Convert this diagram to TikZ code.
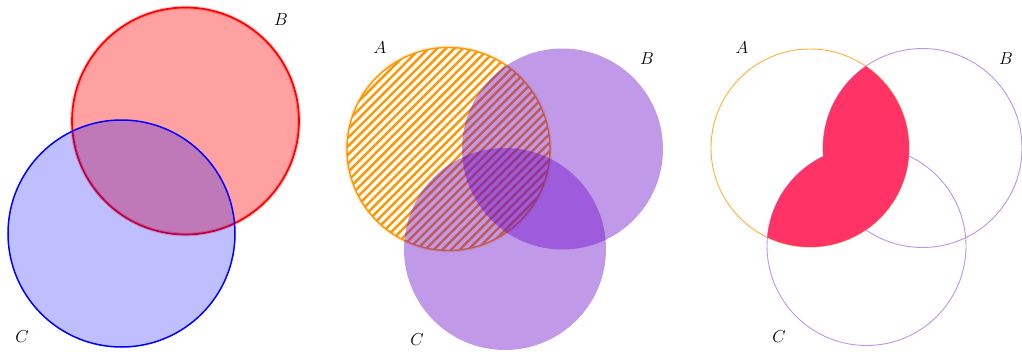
\documentclass[tikz,border=0pt]{standalone}
\usetikzlibrary{calc}
\definecolor{vio}{RGB}{100,0,200}
\definecolor{orng}{RGB}{255,150,0}
\definecolor{hot}{RGB}{255,51,102}
\definecolor{lvio}{RGB}{185,150,235}
\definecolor{lorng}{RGB}{255,175,60}
\tikzset{
  lab/.style={font=\fontsize{18}{20}\selectfont, inner sep=0pt},
  halo/.style={line width=3.8pt, draw opacity=0.22},
  thinring/.style={line width=0.9pt}
}
\begin{document}
\begin{tikzpicture}[x=1pt,y=-1pt]
\useasboundingbox (0,0) rectangle (1022,351);
% ---------- panel 1 ----------
\coordinate (P1B) at (185.5,121);
\coordinate (P1C) at (121.5,233.5);
\draw[red, halo] (P1B) circle[radius=113.5pt];
\fill[red, fill opacity=0.37] (P1B) circle[radius=113.5pt];
\draw[red, line width=1.7pt] (P1B) circle[radius=113.5pt];
\fill[blue, fill opacity=0.25] (P1C) circle[radius=113.5pt];
\draw[blue, line width=1.5pt] (P1C) circle[radius=113.5pt];
\node[lab] (l1B) at (281,20) {$B$};
\node[lab] (l1C) at (22,337) {$C$};
% ---------- panel 2 ----------
\coordinate (P2A) at (448.5,149);
\coordinate (P2B) at (562.5,149);
\coordinate (P2C) at (505,249);
\draw[orng, halo] (P2A) circle[radius=101.5pt];
\fill[white] (P2A) circle[radius=101.5pt];
\begin{scope}
  \clip (P2A) circle[radius=101.5pt];
  \foreach \k in {-30,...,30}
    \draw[orng, line width=2.4pt] ($(P2A)+(\k*8.6-260,260)$) -- ++(520,-520);
\end{scope}
\draw[orng, line width=1.4pt] (P2A) circle[radius=101.5pt];
\fill[vio, fill opacity=0.4] (P2B) circle[radius=100.5pt];
\fill[vio, fill opacity=0.4] (P2C) circle[radius=101pt];
\node[lab] (l2A) at (380,48) {$A$};
\node[lab] (l2B) at (647,59) {$B$};
\node[lab] (l2C) at (417,340) {$C$};
% ---------- panel 3 ----------
\coordinate (P3A) at (810,148);
\coordinate (P3B) at (922.5,148);
\coordinate (P3C) at (866.5,246);
\draw[lorng, thinring] (P3A) circle[radius=99pt];
\draw[lvio, thinring] (P3B) circle[radius=99.5pt];
\draw[lvio, thinring] (P3C) circle[radius=99.5pt];
\begin{scope}
  \clip (P3A) circle[radius=99pt];
  \fill[hot] (P3B) circle[radius=99.5pt];
  \fill[hot] (P3C) circle[radius=99.5pt];
\end{scope}
\node[lab] (l3A) at (742,48) {$A$};
\node[lab] (l3B) at (1006,59) {$B$};
\node[lab] (l3C) at (779,337) {$C$};
\end{tikzpicture}
\end{document}
